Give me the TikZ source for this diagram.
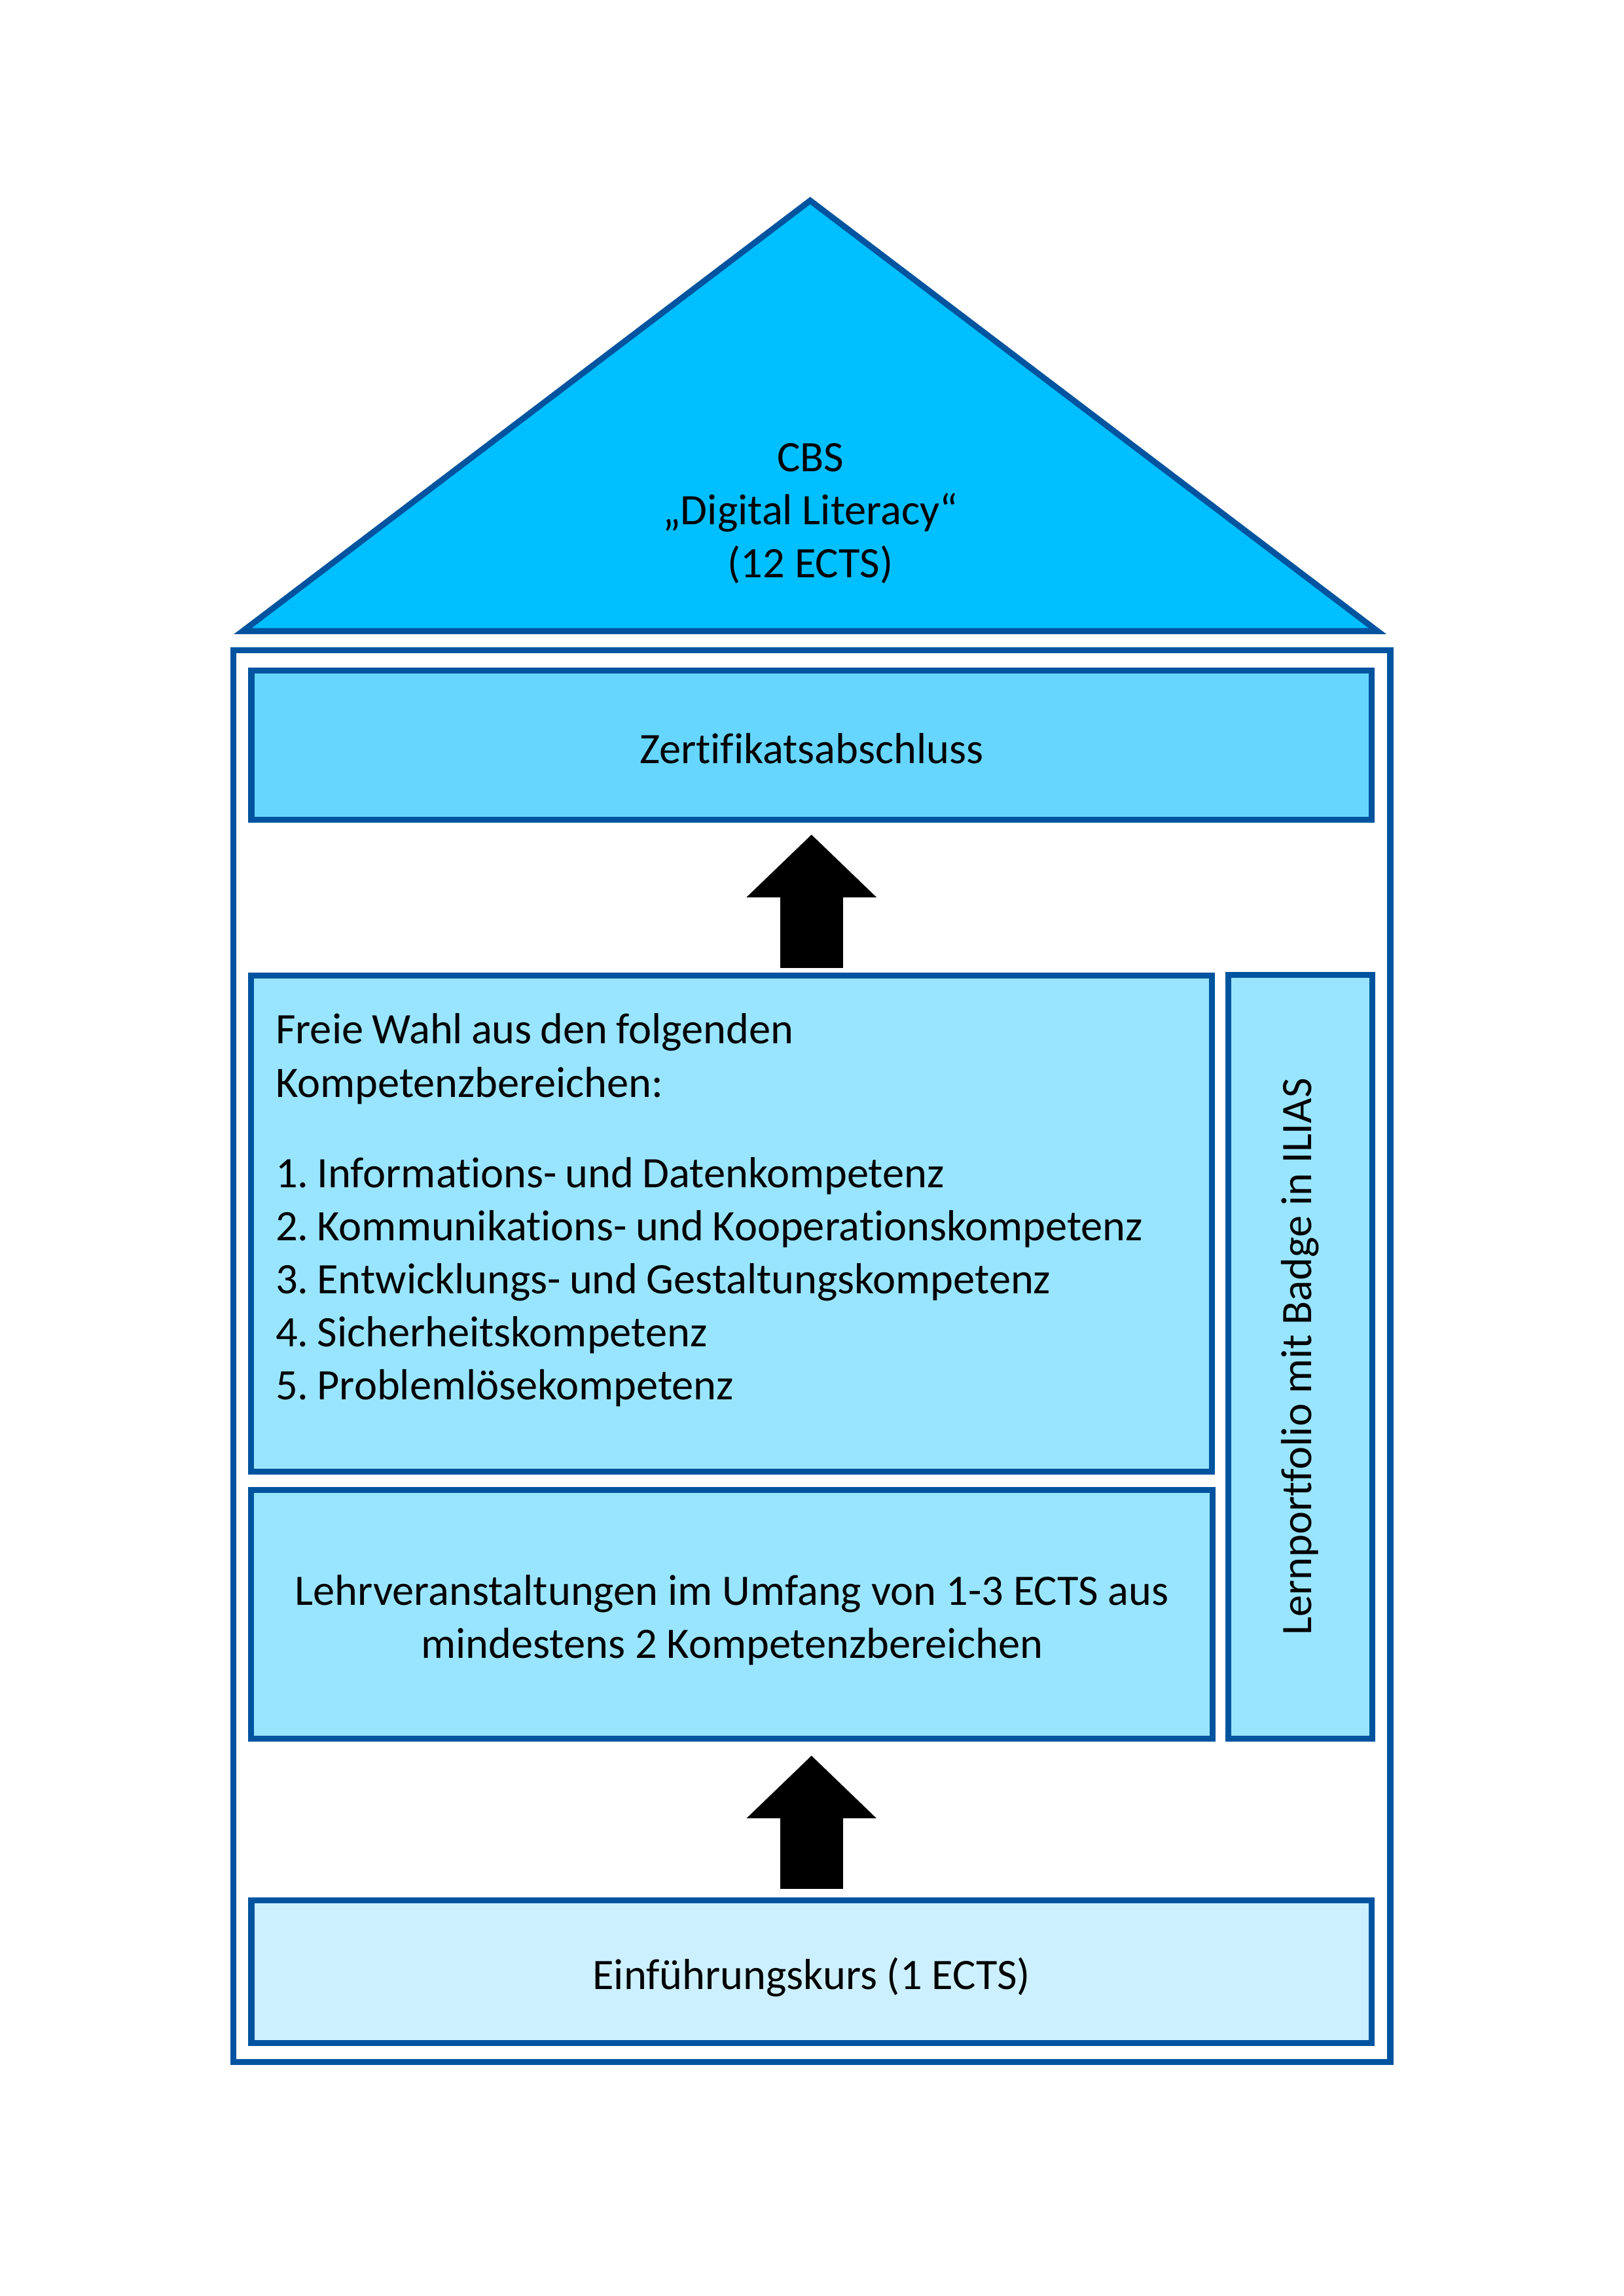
\documentclass[tikz,border=0pt]{standalone}
\usepackage{fontspec}
\setmainfont{Carlito}[Ligatures=NoCommon]
\usetikzlibrary{arrows.meta,calc}
\definecolor{frameblue}{RGB}{0,84,159}
\definecolor{roofblue}{RGB}{0,191,255}
\definecolor{topblue}{RGB}{102,214,255}
\definecolor{midblue}{RGB}{153,229,255}
\definecolor{lowblue}{RGB}{204,240,255}
\frenchspacing
\begin{document}
\begin{tikzpicture}[
    box/.style={draw=frameblue, line width=2.2pt, inner sep=0pt},
    boxtext/.style={inner sep=0pt, align=center, font=\fontsize{16}{19.55}\selectfont},
    blockarrow/.style={line width=0.8126cm, -{Triangle[length=0.8126cm,width=1.634cm]}}
  ]
  % page (A4)
  \useasboundingbox (0,0) rectangle (21,-29.7);
  % Roof
  \coordinate (apex) at (10.479,-2.595);
  \coordinate (eaveL) at (3.140,-8.164);
  \coordinate (eaveR) at (17.817,-8.164);
  \draw[frameblue, fill=roofblue, line width=2.2pt] (apex) -- (eaveR) -- (eaveL) -- cycle;
  \node[boxtext] (title) at (10.482,-6.64) {CBS\\„Digital Literacy“\\(12 ECTS)};
  % House body
  \draw[frameblue, line width=2.2pt] (3.018,-8.409) rectangle (17.982,-26.675);
  % Boxes inside
  \node[box, fill=topblue, minimum width=14.491cm, minimum height=1.930cm] (zert) at (10.496,-9.641) {};
  \node[boxtext] (zerttext) at ([yshift=-0.04cm]zert.center) {Zertifikatsabschluss};
  \node[box, fill=midblue, minimum width=12.426cm, minimum height=6.416cm] (wahl) at (9.463,-15.828) {};
  % tighter word spaces in this box
  \node[boxtext, anchor=base west, text width=11.8cm, align=left] (wahltext)
    at ($(wahl.north west)+(0.347,-0.917)$)
    {\spaceskip=3.15pt\relax
     Freie Wahl aus den folgenden\\[0.01cm]Kompetenzbereichen:\\[0.477cm]
     1. Informations- und Datenkompetenz\\
     2. Kommunikations- und Kooperationskompetenz\\
     3. Entwicklungs- und Gestaltungskompetenz\\
     4. Sicherheitskompetenz\\
     5. Problemlösekompetenz};
  \node[box, fill=midblue, minimum width=12.434cm, minimum height=3.216cm] (lehr) at (9.467,-20.881) {};
  \node[boxtext] (lehrtext) at ([yshift=-0.076cm]lehr.center)
    {Lehrveranstaltungen im Umfang von 1-3 ECTS aus\\mindestens 2 Kompetenzbereichen};
  \node[box, fill=midblue, minimum width=1.862cm, minimum height=9.880cm] (lern) at (16.818,-17.549) {};
  \node[boxtext, rotate=90] (lerntext) at (lern.center) {Lernportfolio mit Badge in ILIAS};
  \node[box, fill=lowblue, minimum width=14.491cm, minimum height=1.849cm] (einf) at (10.496,-25.504) {};
  \node[boxtext] (einftext) at ([yshift=-0.076cm]einf.center) {Einführungskurs (1 ECTS)};
  % Arrows
  \draw[blockarrow, shorten <=0.059cm, shorten >=0.150cm] (zert.south |- wahl.north) -- (zert.south);
  \draw[blockarrow, shorten <=0.104cm, shorten >=0.181cm] (einf.north) -- (einf.north |- lehr.south);
\end{tikzpicture}
\end{document}
